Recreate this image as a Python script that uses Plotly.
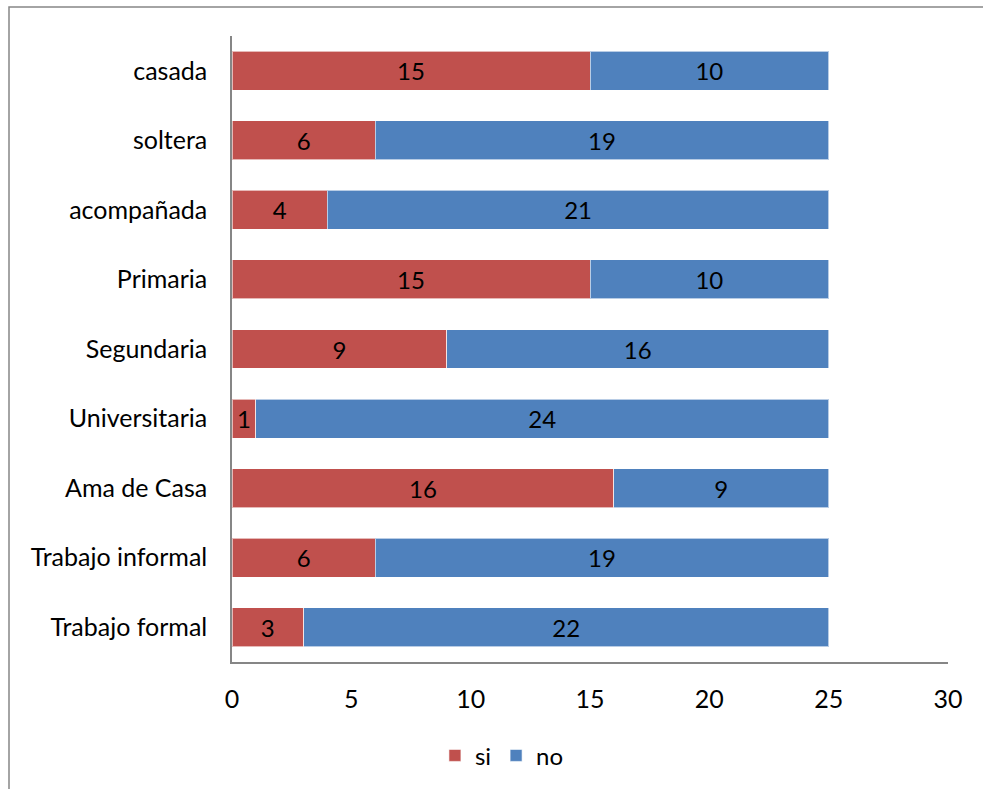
import plotly.graph_objects as go

categories = ["casada", "soltera", "acompañada", "Primaria", "Segundaria",
              "Universitaria", "Ama de Casa", "Trabajo informal", "Trabajo formal"]
si_values = [15, 6, 4, 15, 9, 1, 16, 6, 3]
no_values = [10, 19, 21, 10, 16, 24, 9, 19, 22]
x_ticks = [0, 5, 10, 15, 20, 25, 30]

FONT = "Lato"
FS = 25
W, H = 983, 789
L, R, T, B = 232, 35, 36, 126

fig = go.Figure()
fig.add_trace(go.Bar(
    y=categories, x=si_values, name="si", orientation="h",
    marker=dict(color="#C0504D", line=dict(color="rgba(255,255,255,0.6)", width=1)),
    text=si_values, textposition="inside", insidetextanchor="middle",
    textfont=dict(color="black", size=24, family=FONT),
))
fig.add_trace(go.Bar(
    y=categories, x=no_values, name="no", orientation="h",
    marker=dict(color="#4F81BD", line=dict(color="rgba(255,255,255,0.6)", width=1)),
    text=no_values, textposition="inside", insidetextanchor="middle",
    textfont=dict(color="black", size=24, family=FONT),
))

pw = W - L - R
ph = H - T - B
fig.add_shape(type="rect", xref="paper", yref="paper",
              x0=(9 - L) / pw, x1=(W + 20 - L) / pw,
              y0=-(B + 20) / ph, y1=1 + (T - 7) / ph,
              line=dict(color="#868686", width=1.5), fillcolor="rgba(0,0,0,0)",
              layer="below")

fig.update_layout(
    width=W, height=H,
    margin=dict(l=L, r=R, t=T, b=B),
    barmode="stack", bargap=0.44,
    plot_bgcolor="white", paper_bgcolor="white",
    font=dict(family=FONT, size=FS, color="black"),
    uniformtext=dict(minsize=10, mode="show"),
    xaxis=dict(range=[0, 30], tickvals=x_ticks, showgrid=False, zeroline=False,
               showline=True, linecolor="#868686", linewidth=1.5,
               ticks="", ticklen=0, ticklabelstandoff=14,
               tickfont=dict(size=FS, family=FONT)),
    yaxis=dict(categoryorder="array", categoryarray=categories[::-1],
               showgrid=False, zeroline=False, showline=True, linecolor="#868686",
               linewidth=1.5, ticks="", ticklabelstandoff=18,
               tickfont=dict(size=FS, family=FONT)),
    legend=dict(orientation="h", x=0.377, xanchor="center", y=-0.148, yanchor="middle",
                font=dict(size=24, family=FONT), itemwidth=30, traceorder="normal"),
    showlegend=True,
)

fig.write_html("out.html")
